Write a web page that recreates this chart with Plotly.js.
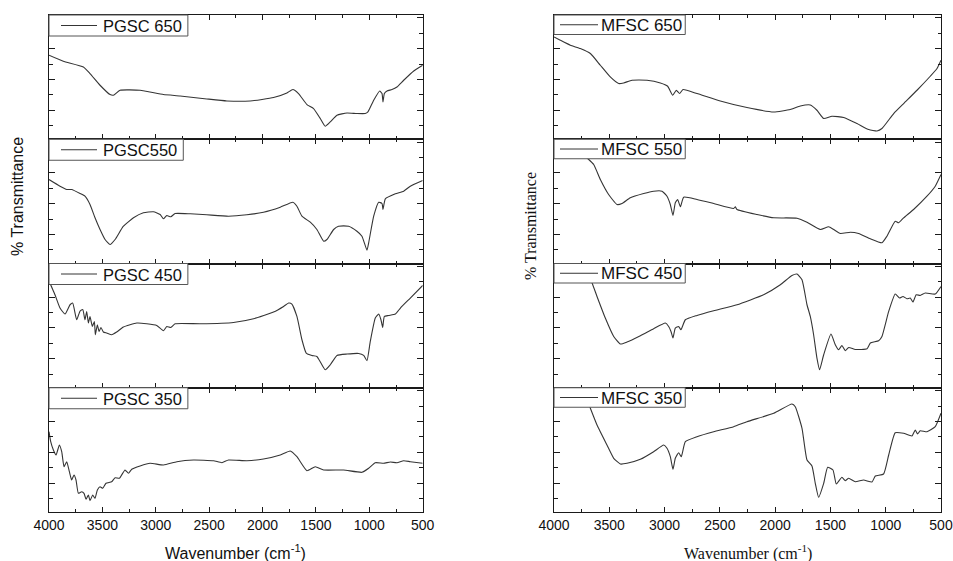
<!DOCTYPE html>
<html>
<head>
<meta charset="utf-8">
<script src="https://cdn.plot.ly/plotly-3.0.1.min.js"></script>
<style>html,body{margin:0;padding:0;background:#fff;}#chart{width:953px;height:561px;}</style>
</head>
<body>
<div id="chart"></div>
<script>
// ---- Data (wavenumber in cm^-1, transmittance in arbitrary units) ----
const seriesNames = ["PGSC 650", "PGSC550", "PGSC 450", "PGSC 350", "MFSC 650", "MFSC 550", "MFSC 450", "MFSC 350"];

const pgsc650_wn = [4000,3866,3678,3616,3522,3428,3397,3334,3147,2928,2772,2522,2334,2116,1897,1772,1716,1663,1584,1522,1459,1413,1366,1303,1209,1116,1038,1013,959,903,881,872,859,834,788,741,678,584,500];
const pgsc650_t  = [84,78,72.3,65.7,54,44.7,44,49,49,44.7,43.3,40.3,38.3,38.3,41.7,46.3,49.7,45.7,34.7,30.7,20.7,13,17.3,24,26.3,25.7,25.7,27.3,39,48.3,45.7,37.3,45.7,48.3,49.7,52.3,59,68.3,74];

const pgsc550_wn = [4000,3897,3834,3788,3709,3663,3616,3569,3522,3475,3428,3381,3303,3209,3116,3022,2959,2928,2897,2859,2819,2678,2522,2319,2147,1991,1834,1716,1678,1631,1553,1491,1428,1397,1334,1288,1194,1116,1069,1022,1006,959,912,881,872,850,756,678,616,500];
const pgsc550_t  = [84,77.3,74,74,70,67.3,59,45.7,34,24,19,24,37.3,45.7,50.7,51.7,49,44.7,48,46.7,50,49.7,48.7,47.3,48.7,51.3,56.3,61.3,57.3,47.3,41.3,34,22.3,24,34,37.3,37.3,32.3,27.3,13.3,20.7,47.3,61.3,60,54,64.7,69.7,72.3,77.3,83];

const pgsc450_wn = [4000,3991,3944,3897,3850,3803,3778,3741,3709,3684,3663,3647,3631,3616,3594,3575,3566,3547,3531,3513,3491,3459,3413,3366,3303,3178,3084,2991,2928,2897,2859,2819,2584,2272,2084,1897,1803,1756,1725,1678,1631,1591,1538,1491,1453,1413,1366,1303,1209,1100,1053,1022,991,944,912,891,875,859,819,756,709,616,500];
const pgsc450_t  = [108,104.7,93,79.7,73.7,83,84.7,68,76.7,78.3,68,76.3,64.7,71.3,61.3,66.3,53,63,56.3,60.3,55.7,54.7,53,55.7,60.7,64.7,64,62.3,57,61.3,60.3,64,64,65.3,69,75.7,81.3,84.7,83.7,71.3,48,34.7,32.3,31.3,24.7,18,23,32.3,33.7,34.3,32.3,27,46.3,69.7,73.7,68,60.3,71.3,72.3,73.7,79.7,89.7,102.3];

const pgsc350_wn = [4000,3984,3959,3934,3903,3881,3859,3834,3809,3788,3766,3747,3725,3694,3672,3653,3631,3616,3591,3569,3547,3522,3497,3466,3413,3381,3341,3288,3256,3225,3147,3053,2928,2803,2647,2459,2381,2319,2147,1991,1834,1741,1678,1584,1506,1428,1241,1069,1006,944,866,803,741,678,616,500];
const pgsc350_t  = [80.3,70.3,62,57,67,60.3,45.3,50.3,40.3,32,37,32,18.7,20.3,18.7,12.7,17,11.3,17,13.7,22,25.3,23.7,28.7,30.3,34.3,33.7,42,38.7,42.7,46,48.7,47,50.3,52,51.3,49.3,52,51.3,53,57,61,55.3,41.3,45.3,42,42,39.7,43.7,49.3,48.7,50,49.3,51.3,50.3,48.7];

const mfsc650_wn = [4000,3943,3852,3762,3671,3581,3491,3415,3370,3295,3159,3038,2972,2927,2894,2864,2833,2707,2496,2255,2013,1863,1772,1682,1622,1561,1486,1380,1260,1154,1079,1034,928,838,717,597,536,500];
const mfsc650_t  = [102.3,99,94,90.7,85.7,74,62.3,55.7,56.3,59,59,56.3,53,44,49,45.7,49.7,45.7,38.3,31.7,27.3,29.7,33.3,34.3,29,20.7,23,21.7,15.7,9.7,8.3,10.7,25.7,35.7,49,63,70.7,79];

const mfsc550_wn = [4000,3800,3702,3641,3581,3506,3430,3385,3310,3189,3099,3023,2978,2948,2924,2903,2882,2857,2827,2707,2556,2375,2360,2345,2164,2013,1802,1712,1591,1516,1471,1410,1320,1245,1139,1034,989,914,884,838,748,627,552,500];
const mfsc550_t  = [138,116,105.7,99,84,69,59,60,65.7,70,72.3,72.3,67.3,59,48,60.7,64,56.7,66.3,64,60,55,56.7,54,49,45.7,45.3,41.3,34,36.7,34,30,31.3,30,24.7,20.7,27.3,42.3,40.7,45.7,54,67.3,77.3,89];

const mfsc450_wn = [4000,3720,3656,3611,3536,3460,3400,3340,3219,3099,2993,2963,2942,2924,2903,2873,2852,2812,2707,2556,2345,2104,1953,1848,1802,1757,1712,1682,1652,1622,1598,1561,1495,1456,1426,1396,1366,1335,1275,1169,1139,1064,1034,973,914,875,844,808,778,754,724,688,643,552,500];
const mfsc450_t  = [140,120,104.7,91.3,69.7,51.3,43.7,45.7,52,59,64.7,61.3,56.3,49.7,59.7,61.3,58,68,72.3,77,83,93,103,112.3,113.7,108,83,71.3,53,29.7,18,33,53.7,43,38,42.3,37,40.3,38.3,39,44.7,47,51.3,76.3,93.7,89.7,91.3,89,89.7,85.7,93,92.3,94.7,93.7,101.3];

const mfsc350_wn = [4000,3720,3671,3611,3521,3460,3400,3340,3219,3099,3008,2978,2948,2924,2903,2873,2849,2812,2707,2556,2375,2255,2013,1848,1818,1757,1712,1667,1637,1607,1561,1525,1477,1447,1396,1366,1335,1275,1200,1124,1094,1019,973,914,838,763,733,712,688,627,552,500];
const mfsc350_t  = [140,118,103.7,87,67,53.7,48,48.7,52.7,60.3,67,63.7,55.3,42.7,53.7,59.3,55.3,70.3,75.3,80.3,85.3,90.3,98.7,108,105.3,83.7,52,46,28.7,14.7,28.7,44.7,42,28,34.7,31.3,33.7,30.3,32,30,36,38,57,79.3,78.7,76,82,78,81.3,80.3,85.3,98.7];

const xTickVals = [4000, 3500, 3000, 2500, 2000, 1500, 1000, 500];
const xTickText = ["4000", "3500", "3000", "2500", "2000", "1500", "1000", "500"];

// ---- Build figure ----
const W = 953, H = 561;
const colX = [[49, 422.7], [554, 941]];
const rowY = [15, 139.25, 263.5, 387.75, 512];
const px2fx = p => p / W;
const py2fy = p => (H - p) / H;

const allWn = [pgsc650_wn, pgsc550_wn, pgsc450_wn, pgsc350_wn, mfsc650_wn, mfsc550_wn, mfsc450_wn, mfsc350_wn];
const allT  = [pgsc650_t, pgsc550_t, pgsc450_t, pgsc350_t, mfsc650_t, mfsc550_t, mfsc450_t, mfsc350_t];

const axisColor = '#1a1a1a';
const lineColor = '#353535';
const sans = 'Arial, "Liberation Sans", sans-serif';
const serif = '"Times New Roman", "Liberation Serif", serif';

// legend-box styling per column (pixel offsets from panel's top-left corner)
const legStyle = [
  {h: 21, l0: 12, l1: 48, tx: 53, pad: 7, size: 16.5},
  {h: 19.5, l0: 6, l1: 44, tx: 46, pad: 4, size: 17}
];
const ctx = document.createElement('canvas').getContext('2d');
function textWidth(s, size) {
  ctx.font = size + 'px Arial, "Liberation Sans", sans-serif';
  return ctx.measureText(s).width;
}

const traces = [];
const layout = {
  width: W, height: H,
  margin: {l: 0, r: 0, t: 0, b: 0},
  paper_bgcolor: '#fff', plot_bgcolor: '#fff',
  showlegend: false,
  annotations: [],
  shapes: [],
  font: {family: sans, color: '#111'}
};

for (let i = 0; i < 8; i++) {
  const col = i < 4 ? 0 : 1;
  const row = i % 4;
  const sfx = i === 0 ? '' : String(i + 1);
  traces.push({
    type: 'scatter', mode: 'lines',
    x: allWn[i], y: allT[i],
    name: seriesNames[i],
    xaxis: 'x' + sfx, yaxis: 'y' + sfx,
    line: {color: lineColor, width: 1.1, shape: 'spline', smoothing: 0.45},
    hoverinfo: 'skip'
  });
  const xd = [px2fx(colX[col][0]), px2fx(colX[col][1])];
  const yd = [py2fy(rowY[row + 1]), py2fy(rowY[row])];
  layout['xaxis' + sfx] = {
    domain: xd, range: [4000, 500], anchor: 'y' + sfx,
    showline: true, linecolor: axisColor, linewidth: 1, mirror: 'allticks',
    ticks: 'inside', ticklen: 5, tickwidth: 1, tickcolor: axisColor,
    tickmode: 'array', tickvals: xTickVals, ticktext: xTickText,
    minor: {dtick: 250, tick0: 0, ticks: 'inside', ticklen: 3, tickcolor: axisColor, showgrid: false},
    showticklabels: row === 3,
    tickfont: {family: sans, size: 14, color: '#111'},
    showgrid: false, zeroline: false, fixedrange: true
  };
  layout['yaxis' + sfx] = {
    domain: yd, range: [0, 124.25], anchor: 'x' + sfx,
    showline: true, linecolor: axisColor, linewidth: 1, mirror: 'allticks',
    ticks: 'inside', ticklen: 6, tickwidth: 1, tickcolor: axisColor,
    tick0: 29, dtick: 30.8,
    minor: {tick0: 29, dtick: 15.4, ticks: 'inside', ticklen: 3.5, tickcolor: axisColor, showgrid: false},
    showticklabels: false, showgrid: false, zeroline: false, fixedrange: true
  };

  // legend box (drawn as a framed label in the panel's upper-left corner)
  const st = legStyle[col];
  const left = colX[col][0], top = rowY[row];
  const tw = textWidth(seriesNames[i], st.size);
  const right = left + st.tx + tw + st.pad;
  layout.shapes.push({
    type: 'rect', xref: 'paper', yref: 'paper', layer: 'above',
    x0: px2fx(left), x1: px2fx(right), y0: py2fy(top + st.h), y1: py2fy(top),
    fillcolor: '#fff', line: {color: '#555', width: 1}
  });
  layout.shapes.push({
    type: 'line', xref: 'paper', yref: 'paper', layer: 'above',
    x0: px2fx(left + st.l0), x1: px2fx(left + st.l1),
    y0: py2fy(top + st.h / 2), y1: py2fy(top + st.h / 2),
    line: {color: lineColor, width: 1}
  });
  layout.annotations.push({
    text: seriesNames[i], xref: 'paper', yref: 'paper',
    x: px2fx(left + st.tx), y: py2fy(top + st.h / 2 + 0.5),
    xanchor: 'left', yanchor: 'middle', showarrow: false, borderpad: 0,
    font: {family: sans, size: st.size, color: '#111'}
  });
}

layout.annotations.push(
  {text: '% Transmittance', xref: 'paper', yref: 'paper', x: px2fx(17), y: py2fy(197),
   xanchor: 'center', yanchor: 'middle',
   textangle: -90, showarrow: false, font: {family: sans, size: 16, color: '#111'}},
  {text: '% Transmittance', xref: 'paper', yref: 'paper', x: px2fx(530), y: py2fy(226),
   xanchor: 'center', yanchor: 'middle',
   textangle: -90, showarrow: false, font: {family: serif, size: 16, color: '#111'}},
  {text: 'Wavenumber (cm<sup>-1</sup>)', xref: 'paper', yref: 'paper', x: px2fx(235.5), y: py2fy(552),
   xanchor: 'center', yanchor: 'middle',
   showarrow: false, font: {family: sans, size: 16, color: '#111'}},
  {text: 'Wavenumber (cm<sup>-1</sup>)', xref: 'paper', yref: 'paper', x: px2fx(747.5), y: py2fy(552),
   xanchor: 'center', yanchor: 'middle',
   showarrow: false, font: {family: serif, size: 16, color: '#111'}}
);

Plotly.newPlot('chart', traces, layout, {staticPlot: true, displayModeBar: false});
</script>
</body>
</html>
